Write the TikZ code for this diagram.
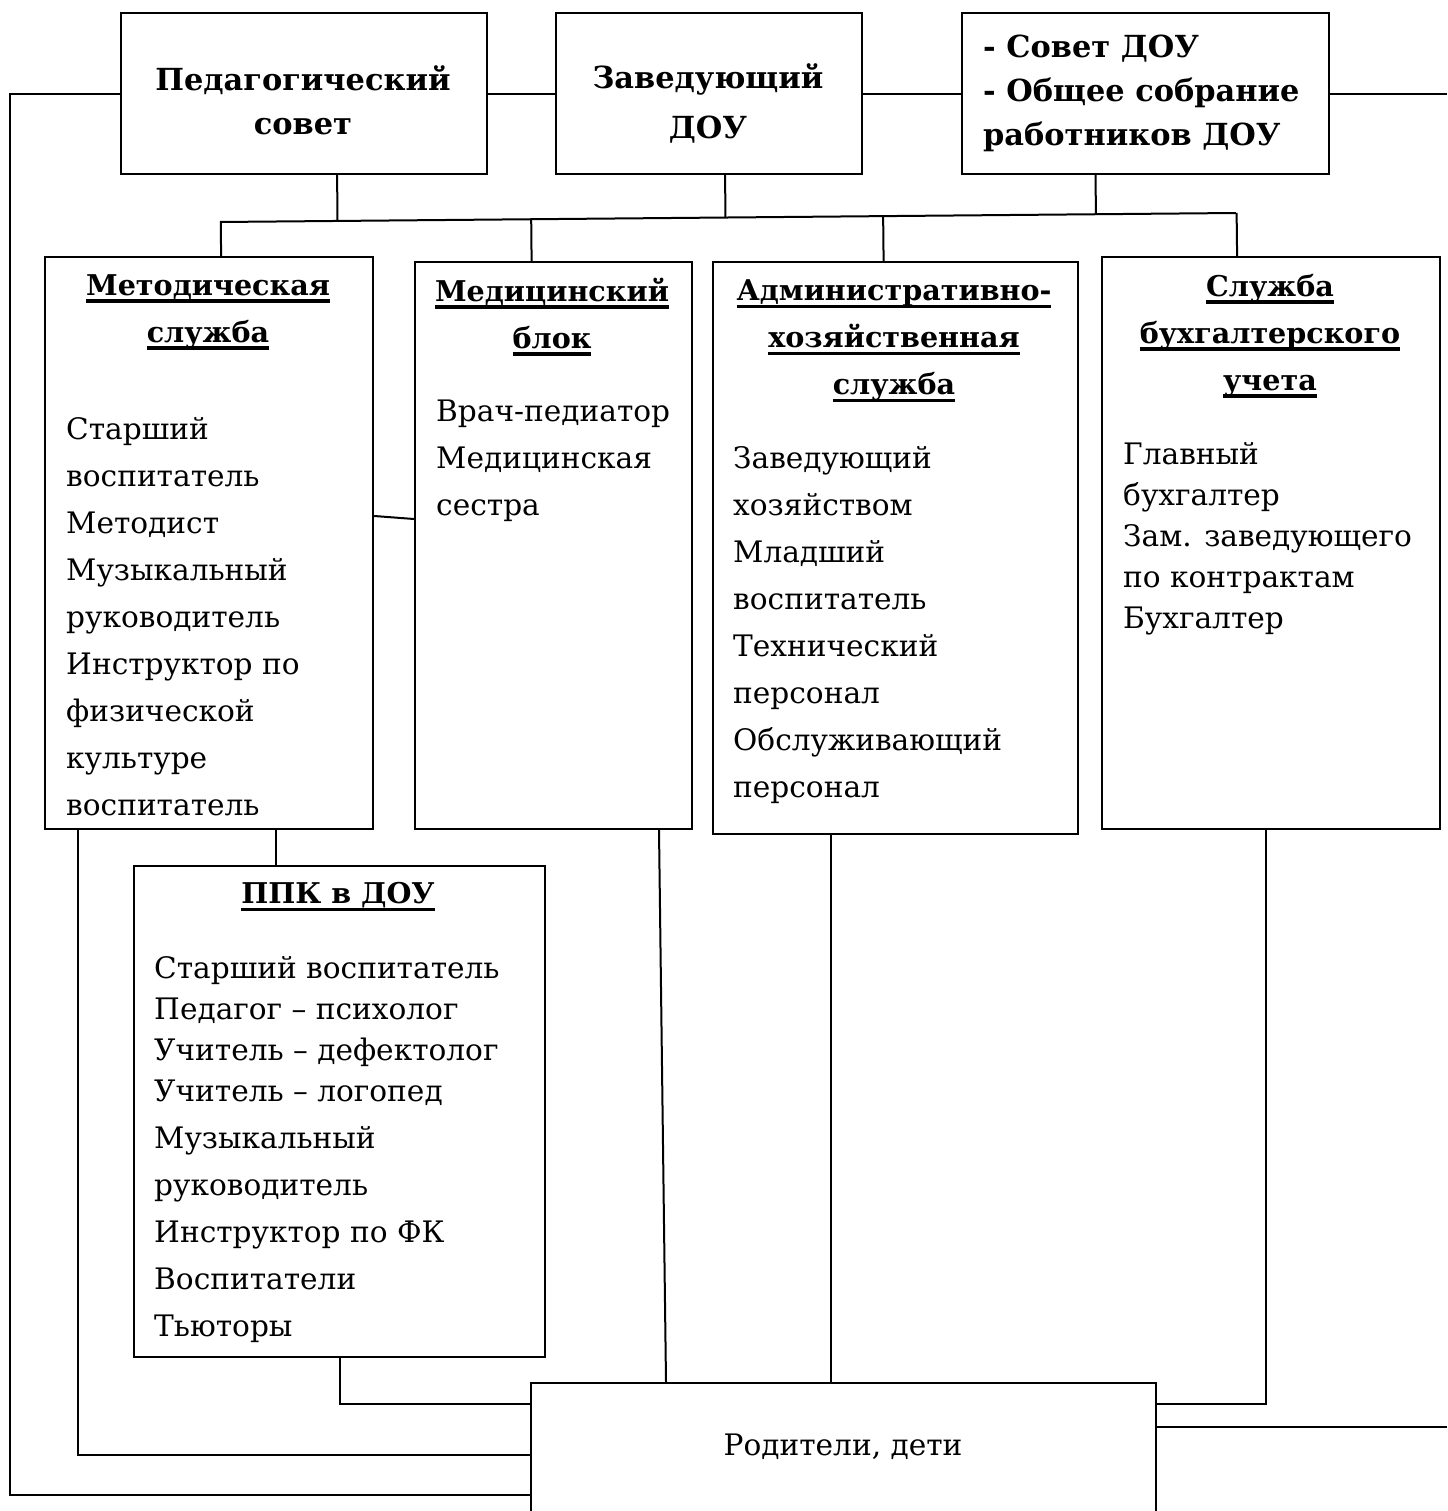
\documentclass[tikz,border=0pt]{standalone}
\usepackage{fontspec}
\setmainfont{DejaVu Serif}
\usepackage{tikz}
\usetikzlibrary{calc,positioning}

\newsavebox\ulbox
\newcommand\ulin[1]{\sbox\ulbox{#1}\rlap{\rule[-7.5pt]{\wd\ulbox}{3.5pt}}\usebox\ulbox}
\newcommand\topfont{\fontsize{30.4}{44}\selectfont\bfseries}
\newcommand\headfont{\fontsize{28.6}{47}\selectfont\bfseries}
\newcommand\bodyfont{\fontsize{29.6}{47}\selectfont}
\newcommand\smallbody{\fontsize{29.6}{41}\selectfont}

\tikzset{
  box/.style={draw,line width=2.2pt,anchor=north west,inner sep=0pt},
  link/.style={line width=2pt},
  head/.style={font=\headfont,align=center,inner sep=0pt},
  body/.style={font=\bodyfont,align=left,anchor=west,inner sep=0pt}
}

\begin{document}
\begin{tikzpicture}[x=1pt,y=-1pt]
 	\useasboundingbox (0,0) rectangle (1447,1511);
 	\clip (0,0) rectangle (1447,1511);
 	% boxes
 	\node[box,minimum width=366pt,minimum height=161pt] (ped) at (120,12) {};
 	\node[box,minimum width=306pt,minimum height=161pt] (zav) at (555,12) {};
 	\node[box,minimum width=367pt,minimum height=161pt] (sovet) at (961,12) {};
 	\node[box,minimum width=328pt,minimum height=572pt] (metod) at (44,256) {};
 	\node[box,minimum width=277pt,minimum height=567pt] (med) at (414,261) {};
 	\node[box,minimum width=365pt,minimum height=572pt] (adm) at (712,261) {};
 	\node[box,minimum width=338pt,minimum height=572pt] (buh) at (1101,256) {};
 	\node[box,minimum width=411pt,minimum height=491pt] (ppk) at (133,865) {};
 	\node[box,minimum width=625pt,minimum height=180pt] (rod) at (530,1382) {};
 	% texts
 	\node[font=\topfont,align=center,inner sep=0pt] (pedtxt) at (303,100) {Педагогический\\совет};
 	\node[font=\topfont,align=center,inner sep=0pt] (zavtxt) at (708,103) {Заведующий\\[6pt]ДОУ};
 	\node[font=\topfont,align=left,anchor=west,inner sep=0pt] (sovettxt) at (983,93) {- Совет ДОУ\\- Общее собрание\\работников ДОУ};
 	\node[head] (metodhead) at (208,312) {\ulin{Методическая}\\\ulin{служба}};
 	\node[body] (metodtxt) at (66,617) {Старший\\воспитатель\\Методист\\Музыкальный\\руководитель\\Инструктор по\\физической\\культуре\\воспитатель};
 	\node[head] (medhead) at (552,317) {\ulin{Медицинский}\\\ulin{блок}};
 	\node[body] (medtxt) at (436,461) {Врач-педиатор\\Медицинская\\сестра};
 	\node[head] (admhead) at (894,341) {\ulin{Административно-}\\\ulin{хозяйственная}\\\ulin{служба}};
 	\node[body] (admtxt) at (733,625) {Заведующий\\хозяйством\\Младший\\воспитатель\\Технический\\персонал\\Обслуживающий\\персонал};
 	\node[head] (buhhead) at (1270,336) {\ulin{Служба}\\\ulin{бухгалтерского}\\\ulin{учета}};
 	\node[body,font=\smallbody] (buhtxt) at (1123,539) {Главный\\бухгалтер\\Зам. заведующего\\по контрактам\\Бухгалтер};
 	\node[head] (ppkhead) at (338,897) {\ulin{ППК в ДОУ}};
 	\node[body] (ppktxt) at (154,1150) {Старший воспитатель\\[-6pt]Педагог -- психолог\\[-6pt]Учитель -- дефектолог\\[-6pt]Учитель -- логопед\\Музыкальный\\руководитель\\Инструктор по ФК\\Воспитатели\\Тьюторы};
 	\node[font=\bodyfont,inner sep=0pt] (rodtxt) at (843,1447) {Родители, дети};
 	% top row
 	\coordinate (outL) at (10,0);
 	\coordinate (outR) at (1447,0);
 	\draw[link] (ped.east) -- (zav.west);
 	\draw[link] (zav.east) -- (sovet.west);
 	\draw[link] (sovet.east) -- (sovet.east -| outR);
 	\draw[link] (ped.west) -- (ped.west -| outL) |- ([yshift=-113pt]rod.north west);
 	% bus
 	\coordinate (busL) at (220,222);
 	\coordinate (busR) at (1236,213);
 	\draw[link] (busL) -- (busR);
 	\coordinate (pedup) at ([xshift=33pt]ped.south);
 	\coordinate (zavup) at ([xshift=16pt]zav.south);
 	\coordinate (sovetup) at ([xshift=-50pt]sovet.south);
 	\draw[link] (pedup) -- ($(busL)!(pedup)!(busR)$);
 	\draw[link] (zavup) -- ($(busL)!(zavup)!(busR)$);
 	\draw[link] (sovetup) -- ($(busL)!(sovetup)!(busR)$);
 	\coordinate (metoddn) at ([xshift=12pt]metod.north);
 	\coordinate (meddn) at ([xshift=-22pt]med.north);
 	\coordinate (admdn) at ([xshift=-12pt]adm.north);
 	\coordinate (buhdn) at ([xshift=-34pt]buh.north);
 	\draw[link] ($(busL)!(metoddn)!(busR)$) -- (metoddn);
 	\draw[link] ($(busL)!(meddn)!(busR)$) -- (meddn);
 	\draw[link] ($(busL)!(admdn)!(busR)$) -- (admdn);
 	\draw[link] ($(busL)!(buhdn)!(busR)$) -- (buhdn);
 	% middle
 	\draw[link] ([yshift=-260pt]metod.north east) -- ([yshift=-258pt]med.north west);
 	\draw[link] ([xshift=67pt]metod.south) -- ([xshift=67pt]metod.south |- ppk.north);
 	% down to parents
 	\draw[link] ([xshift=34pt]metod.south west) |- ([yshift=-73pt]rod.north west);
 	\draw[link] (ppk.south) |- ([yshift=-22pt]rod.north west);
 	\draw[link] ([xshift=245pt]med.south west) -- ([xshift=136pt]rod.north west);
 	\draw[link] ([xshift=119pt]adm.south west) -- ([xshift=119pt]adm.south west |- rod.north);
 	\draw[link] ([xshift=165pt]buh.south west) |- ([yshift=-22pt]rod.north east);
 	\draw[link] ([yshift=-45pt]rod.north east) -- ([yshift=-45pt]rod.north east -| outR);
\end{tikzpicture}
\end{document}
